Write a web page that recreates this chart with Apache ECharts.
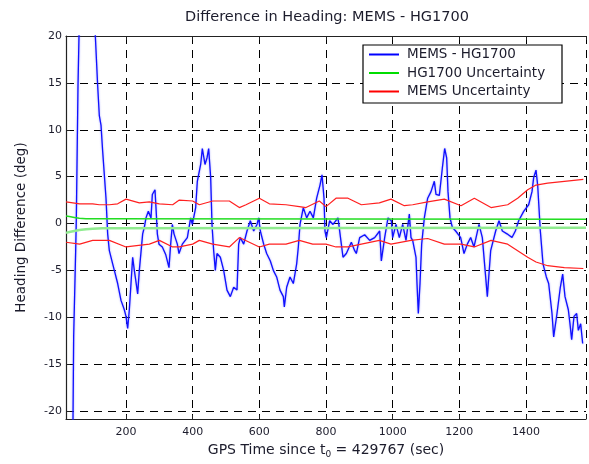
<!DOCTYPE html>
<html><head><meta charset="utf-8">
<script src="https://cdn.jsdelivr.net/npm/echarts@6/dist/echarts.min.js"></script>
<style>html,body{margin:0;padding:0;background:#fff}#c{width:589px;height:464px}</style>
</head><body><div id="c"></div>
<script>
// ---- data ----
const xTicks = [200, 400, 600, 800, 1000, 1200, 1400];
const yTicks = [-20, -15, -10, -5, 0, 5, 10, 15, 20];

const blueX = [35, 41, 43, 49, 51, 56, 59, 70, 85, 100, 108, 115, 120, 125, 130, 140, 145, 150, 160, 165, 175, 185, 195, 200, 205, 210, 215, 220, 225, 235, 240, 250, 255, 260, 267, 275, 279, 287, 291, 294, 299, 309, 319, 329, 334, 339, 344, 354, 359, 369, 384, 394, 399, 409, 414, 424, 429, 437, 443, 448, 454, 458, 463, 468, 473, 483, 493, 503, 513, 523, 533, 538, 543, 553, 563, 573, 583, 593, 598, 603, 613, 622, 633, 642, 652, 662, 672, 675, 682, 692, 702, 712, 717, 722, 732, 742, 752, 762, 772, 782, 788, 794, 797, 801, 811, 821, 836, 846, 851, 856, 861, 866, 876, 886, 891, 901, 916, 931, 946, 961, 966, 976, 986, 996, 1000, 1010, 1020, 1030, 1040, 1050, 1055, 1060, 1065, 1070, 1073, 1077, 1082, 1087, 1095, 1105, 1115, 1125, 1130, 1140, 1149, 1156, 1162, 1166, 1172, 1179, 1189, 1204, 1214, 1224, 1234, 1244, 1249, 1259, 1269, 1274, 1284, 1294, 1309, 1319, 1329, 1343, 1358, 1368, 1378, 1393, 1408, 1418, 1423, 1430, 1435, 1443, 1451, 1461, 1468, 1478, 1483, 1493, 1503, 1510, 1517, 1527, 1532, 1537, 1544, 1552, 1557, 1564, 1570];
const blueY = [-25, -21, -12, -2.9, 0.6, 14.7, 20, 28, 30, 26, 20, 14.7, 11.5, 10.5, 7.7, 2.7, -1.1, -2.9, -4.3, -5.0, -6.4, -8.2, -9.2, -9.9, -11.2, -9.2, -6.4, -3.6, -5, -7.5, -5, -1.1, -0.4, 0.6, 1.3, 0.6, 3.1, 3.6, 1.0, -1.1, -2.2, -2.5, -3.3, -4.7, -2.2, -0.1, -1.1, -2.2, -3.2, -2.2, -1.5, 0.6, -0.1, 1.7, 4.5, 6.3, 8.0, 6.3, 7.0, 8.0, 4.9, -0.1, -2.9, -5, -3.2, -3.6, -5, -7.1, -7.8, -6.8, -7.1, -2.2, -1.5, -2.2, -0.8, 0.3, -0.8, -0.1, 0.6, -0.8, -2.2, -3.2, -4.0, -5, -5.7, -7.1, -7.8, -8.9, -6.8, -5.7, -6.4, -4.3, -2.5, -0.1, 1.7, 0.6, 1.3, 0.6, 2.7, 4.1, 5.2, 2.7, -0.8, -1.5, 0.3, -0.1, 0.6, -2.2, -3.6, -3.6, -3.2, -3.2, -2.0, -2.9, -3.2, -1.5, -1.2, -1.8, -1.5, -0.8, -4.0, -1.5, 0.6, 0.3, -1.5, -0.1, -1.5, -0.1, -1.8, 1.0, -1.5, -1.8, -1.8, -3.6, -6.4, -9.6, -6.4, -2.2, 0.6, 2.7, 3.4, 4.5, 3.1, 3.0, 5.9, 8.0, 7.0, 3.4, 0.6, -0.4, -0.8, -1.5, -3.2, -2.2, -1.5, -2.5, -2.5, -0.1, -1.5, -1.5, -7.8, -2.9, -0.8, 0.3, -0.8, -1.1, -1.5, -0.8, 0.3, 1.3, 2.0, 3.4, 4.9, 5.7, 4.1, -0.8, -4.3, -5.7, -6.4, -9.6, -12.1, -9.6, -6.8, -5.4, -7.8, -9.2, -10.7, -12.4, -9.9, -9.6, -11.4, -10.7, -12.8];

const hgX = [20, 30, 45, 60, 80, 100, 130, 1580];
const hgUpper = [0.8, 0.75, 0.65, 0.55, 0.5, 0.5, 0.5, 0.45];
const hgLower = [-1.0, -0.9, -0.8, -0.7, -0.6, -0.55, -0.5, -0.45];

const memsUpX = [20, 61, 100, 120, 150, 175, 200, 240, 270, 300, 340, 360, 400, 420, 460, 510, 540, 560, 600, 630, 680, 720, 740, 780, 800, 830, 866, 906, 960, 995, 1035, 1060, 1105, 1155, 1205, 1245, 1295, 1345, 1375, 1405, 1430, 1465, 1515, 1572];
const memsUpY = [2.3, 2.1, 2.1, 2.0, 2.0, 2.1, 2.6, 2.2, 2.3, 2.1, 2.0, 2.5, 2.4, 2.0, 2.4, 2.4, 1.7, 2.0, 2.7, 2.1, 2.0, 1.8, 1.7, 2.4, 1.8, 2.7, 2.7, 2.0, 2.2, 2.6, 1.9, 2.0, 2.3, 2.6, 1.9, 2.7, 1.7, 2.0, 2.7, 3.6, 4.1, 4.3, 4.5, 4.7];
const memsLoX = [20, 61, 100, 150, 200, 270, 300, 340, 360, 400, 420, 460, 510, 540, 600, 630, 680, 720, 760, 800, 830, 866, 906, 960, 995, 1055, 1105, 1155, 1205, 1245, 1295, 1345, 1375, 1405, 1430, 1465, 1515, 1572];
const memsLoY = [-2.0, -2.2, -1.8, -1.8, -2.5, -2.2, -1.8, -2.5, -2.5, -2.2, -1.8, -2.2, -2.5, -1.5, -2.5, -2.2, -2.2, -1.8, -2.2, -2.2, -2.5, -2.5, -2.2, -1.8, -2.2, -1.8, -1.6, -2.2, -2.2, -2.5, -1.8, -2.2, -2.9, -3.6, -4.1, -4.5, -4.7, -4.8];

const zip = (xs, ys) => xs.map((x, i) => [x, ys[i]]);
const FONT = '"DejaVu Sans", Verdana, sans-serif';
const TXT = '#1c1c2c';

const chart = echarts.init(document.getElementById('c'), null, {renderer: 'canvas'});
const gridLine = {show: true, lineStyle: {color: '#000', width: 1, type: [8, 6]}};
chart.setOption({
  animation: false,
  backgroundColor: '#fff',
  title: {
    text: 'Difference in Heading: MEMS - HG1700',
    left: 327, top: 10, textAlign: 'center', padding: 0,
    textStyle: {fontFamily: FONT, fontSize: 14.5, fontWeight: 'normal', color: TXT}
  },
  grid: {left: 66, right: 0, top: 36, bottom: 41, containLabel: false},
  legend: {
    data: ['MEMS - HG1700', 'HG1700 Uncertainty', 'MEMS Uncertainty'],
    orient: 'vertical', left: 369, top: 47, padding: 0,
    icon: 'rect', itemWidth: 30, itemHeight: 2, itemGap: 3.5,
    textStyle: {fontFamily: FONT, fontSize: 13.5, color: TXT, lineHeight: 15, padding: [0, 0, 0, 3]},
    z: 60
  },
  graphic: [{
    type: 'rect', z: 50,
    shape: {x: 363, y: 45, width: 199, height: 58},
    style: {fill: '#fff', stroke: '#000', lineWidth: 1.2}
  }],
  xAxis: [{
    type: 'value', min: 20, max: 1580, minInterval: 200, maxInterval: 200, splitNumber: 8,
    position: 'bottom',
    name: 'GPS Time since t{sub|0} = 429767 (sec)', nameLocation: 'middle', nameGap: 23,
    nameTextStyle: {fontFamily: FONT, fontSize: 14, color: TXT,
      rich: {sub: {fontFamily: FONT, fontSize: 9, color: TXT, padding: [8, 0, 0, 0]}}},
    axisLine: {show: true, onZero: false, lineStyle: {color: '#222', width: 1.2}},
    axisTick: {show: true, inside: true, length: 4, lineStyle: {color: '#222'}},
    axisLabel: {fontFamily: FONT, fontSize: 11, color: TXT, margin: 8,
      formatter: v => xTicks.includes(v) ? String(v) : ''},
    splitLine: gridLine
  }, {
    type: 'value', min: 20, max: 1580, minInterval: 200, maxInterval: 200, splitNumber: 8,
    position: 'top',
    axisLine: {show: true, onZero: false, lineStyle: {color: '#222', width: 1.2}},
    axisTick: {show: true, inside: true, length: 4, lineStyle: {color: '#222'}},
    axisLabel: {show: false}, splitLine: {show: false}
  }],
  yAxis: {
    type: 'value', min: -20.85, max: 20, minInterval: 5, maxInterval: 5, splitNumber: 8,
    name: 'Heading Difference (deg)', nameLocation: 'middle', nameGap: 38,
    nameTextStyle: {fontFamily: FONT, fontSize: 13.5, color: TXT},
    axisLine: {show: true, onZero: false, lineStyle: {color: '#222', width: 1.2}},
    axisTick: {show: true, inside: true, length: 4, lineStyle: {color: '#222'}},
    axisLabel: {fontFamily: FONT, fontSize: 11, color: TXT, margin: 4,
      formatter: v => yTicks.includes(v) ? String(v) : ''},
    splitLine: gridLine
  },
  series: [
    {name: 'MEMS - HG1700', type: 'line', data: zip(blueX, blueY), color: '#0000ff',
     symbol: 'none', clip: true,
     lineStyle: {color: '#1010ff', width: 1.3, shadowColor: 'rgba(90,90,255,0.6)', shadowBlur: 2}},
    {name: 'HG1700 Uncertainty', type: 'line', data: zip(hgX, hgUpper), color: '#00dd00',
     symbol: 'none', lineStyle: {color: '#22dd22', width: 1.5}},
    {name: 'HG1700 Uncertainty', type: 'line', data: zip(hgX, hgLower), color: '#00dd00',
     symbol: 'none', lineStyle: {color: '#90ec90', width: 2.5}},
    {name: 'MEMS Uncertainty', type: 'line', data: zip(memsUpX, memsUpY), color: '#ff0000',
     symbol: 'none', lineStyle: {color: '#ff2020', width: 1.2}},
    {name: 'MEMS Uncertainty', type: 'line', data: zip(memsLoX, memsLoY), color: '#ff0000',
     symbol: 'none', lineStyle: {color: '#ff2020', width: 1.2}}
  ]
});
</script>
</body></html>
